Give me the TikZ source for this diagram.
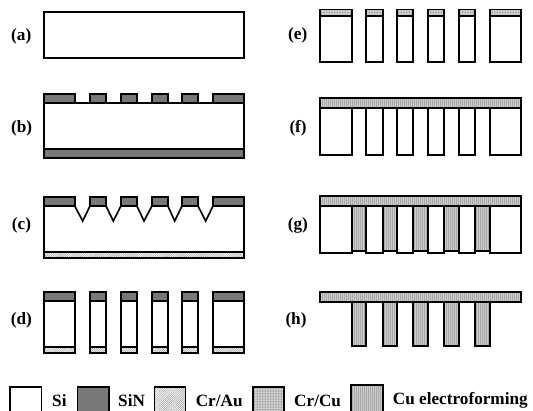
\documentclass[tikz,border=0pt]{standalone}
\usepackage{fontspec}
\setmainfont{Liberation Serif}
\usetikzlibrary{patterns.meta}
\definecolor{sinbase}{HTML}{7C7C7C}
\definecolor{sindot}{HTML}{6C6C6C}
\definecolor{cubase}{HTML}{CCCCCC}
\definecolor{culine}{HTML}{A8A8A8}
\definecolor{crcubase}{HTML}{DADADA}
\definecolor{crcudot}{HTML}{808080}
\definecolor{crauline}{HTML}{9A9A9A}
\tikzset{
  outl/.style={draw=black,line width=1.65pt,line join=miter},
  si/.style={outl,fill=white},
  sinl/.style={outl,fill=sinbase,postaction={outl,pattern={Dots[distance=1.6pt,radius=.45pt]},pattern color=sindot}},
  crau/.style={outl,fill=white,postaction={outl,pattern={Lines[angle=45,distance=1.5pt,line width=.5pt]},pattern color=crauline}},
  crcu/.style={outl,fill=crcubase,postaction={outl,pattern={Dots[distance=1.6pt,radius=.5pt]},pattern color=crcudot}},
  cuel/.style={outl,fill=cubase,postaction={outl,pattern={Lines[angle=90,distance=2pt,line width=.7pt]},pattern color=culine}},
  lab/.style={anchor=base west,inner sep=0pt,font=\fontsize{17.2}{20}\selectfont\bfseries},
}
\newcommand{\segL}{44/74.7,90/106,120.9/136.9,151.9/167.9,182/198,213/244}
\newcommand{\segR}{320.3/351.7,366.3/382.7,397/413,428.3/444,458.7/475,489.7/520.7}
\newcommand{\gapR}{351.7/366.3,382.7/397,413/428.3,444/458.7,475/489.7}
\begin{document}
\begin{tikzpicture}[x=1pt,y=-1pt]
\useasboundingbox (0,0) rectangle (533,411);
\clip (0,0) rectangle (533,411);
% (a)
\draw[si] (44,12) rectangle (244,58);
% (b)
\draw[si] (44,103) rectangle (244,149);
\foreach \l/\r in \segL {\draw[sinl] (\l,94.3) rectangle (\r,103);}
\draw[sinl] (44,149) rectangle (244,158);
% (c)
\draw[si] (44,206) -- (74.7,206) -- (82.7,221) -- (90,206) -- (106,206) -- (113.3,221) -- (120.9,206)
  -- (136.9,206) -- (144,221) -- (151.9,206) -- (167.9,206) -- (174.7,221) -- (182,206)
  -- (198,206) -- (205.7,221) -- (213,206) -- (244,206) -- (244,252) -- (44,252) -- cycle;
\foreach \l/\r in \segL {\draw[sinl] (\l,197) rectangle (\r,206);}
\draw[crau] (44,252) rectangle (244,258);
% (d)
\foreach \l/\r in \segL {
  \draw[si] (\l,301) rectangle (\r,347);
  \draw[sinl] (\l,292) rectangle (\r,301);
  \draw[crau] (\l,347) rectangle (\r,353);
}
% (e)
\foreach \l/\r in \segR {
  \draw[si] (\l,15.7) rectangle (\r,62);
  \draw[crcu] (\l,9.6) rectangle (\r,15.7);
}
% (f)
\foreach \l/\r in \segR {\draw[si] (\l,108.3) rectangle (\r,154.7);}
\draw[cuel] (320.3,98.3) rectangle (520.7,108.3);
% (g)
\foreach \l/\r in \gapR {\draw[cuel] (\l,206) rectangle (\r,250.7);}
\foreach \l/\r in \segR {\draw[si] (\l,206) rectangle (\r,252.7);}
\draw[cuel] (320.3,196.3) rectangle (520.7,206);
% (h)
\foreach \l/\r in \gapR {\draw[cuel] (\l,302) rectangle (\r,346);}
\draw[cuel] (320.3,292) rectangle (520.7,302);
% labels
\node[lab] (la) at (11,41) {(a)};
\node[lab] (lb) at (11,133) {(b)};
\node[lab] (lc) at (11.7,230) {(c)};
\node[lab] (ld) at (10.7,325) {(d)};
\node[lab] (le) at (288,39.5) {(e)};
\node[lab] (lf) at (289.3,132.7) {(f)};
\node[lab] (lg) at (287.7,230) {(g)};
\node[lab] (lh) at (285.3,325) {(h)};
% legend
\draw[si] (10,386.7) rectangle (41.5,420);
\draw[sinl] (77.5,386.7) rectangle (109,420);
\draw[crau] (154.5,386.7) rectangle (185.5,420);
\draw[crcu] (252.7,386.7) rectangle (284.3,420);
\draw[cuel] (351,385) rectangle (382.7,420);
\node[lab] (tsi) at (52,407) {Si};
\node[lab] (tsin) at (118,407) {SiN};
\node[lab] (tcrau) at (195.6,407) {Cr/Au};
\node[lab] (tcrcu) at (294,407) {Cr/Cu};
\node[lab] (tcu) at (392.7,405) {Cu electroforming};
\end{tikzpicture}
\end{document}
